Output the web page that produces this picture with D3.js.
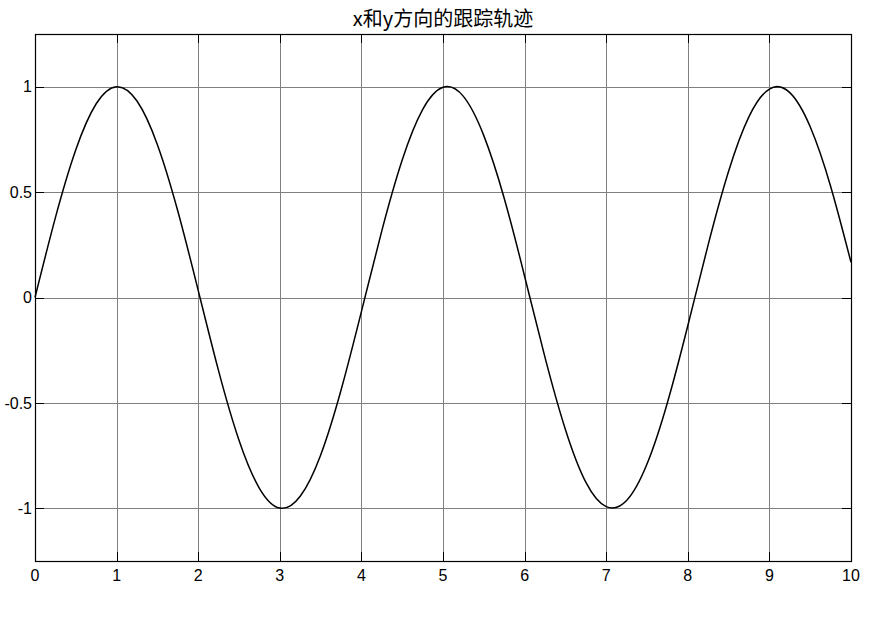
<!DOCTYPE html>
<html lang="zh">
<head>
<meta charset="UTF-8">
<title>x和y方向的跟踪轨迹</title>
<script src="https://d3js.org/d3.v7.min.js"></script>
<style>
  body { margin: 0; background: #fff; }
  .chart text { font-family: "Liberation Sans", Arial, sans-serif; font-size: 16px; fill: #000; }
  .chart .title { font-family: "Noto Sans CJK SC", sans-serif; font-size: 20px; text-anchor: middle; }
  .grid line { stroke: #808080; stroke-width: 1; shape-rendering: crispEdges; }
  .tick-in line { stroke: #000; stroke-width: 1; shape-rendering: crispEdges; }
</style>
</head>
<body>
<svg class="chart"></svg>
<script>
// every 0.25 on t
let tValues = [0, 0.25, 0.5, 0.75, 1, 1.25, 1.5, 1.75, 2, 2.25, 2.5, 2.75, 3, 3.25, 3.5, 3.75,
               4, 4.25, 4.5, 4.75, 5, 5.25, 5.5, 5.75, 6, 6.25, 6.5, 6.75, 7, 7.25, 7.5, 7.75,
               8, 8.25, 8.5, 8.75, 9, 9.25, 9.5, 9.75, 10];
let yValues = [0, 0.379, 0.701, 0.919, 1.0, 0.932, 0.725, 0.410, 0.034, -0.348, -0.677, -0.905, -0.999, -0.943, -0.748, -0.440,
               -0.067, 0.316, 0.652, 0.891, 0.997, 0.954, 0.768, 0.471, 0.101, -0.284, -0.626, -0.876, -0.992, -0.963, -0.790, -0.499,
               -0.134, 0.251, 0.599, 0.858, 0.989, 0.972, 0.810, 0.528, 0.167];
let xTicks = [0, 1, 2, 3, 4, 5, 6, 7, 8, 9, 10];
let yTicks = [-1, -0.5, 0, 0.5, 1];
let yTickLabels = ['-1', '-0.5', '0', '0.5', '1'];
let title = 'x和y方向的跟踪轨迹';

let W = 875, H = 619;
let margin = {top: 34, right: 24, bottom: 58, left: 35};
let width = W - margin.left - margin.right, height = H - margin.top - margin.bottom;
let tickLen = 9;

let x = d3.scaleLinear().domain([0, 10]).range([0, width]);
let y = d3.scaleLinear().domain([-1.25, 1.25]).range([height, 0]);

let svg = d3.select('.chart').attr('width', W).attr('height', H);
let chart = svg.append('g').attr('transform', 'translate(' + margin.left + ',' + margin.top + ')');

// grid
let grid = chart.append('g').attr('class', 'grid');
grid.selectAll('.gx').data(xTicks).enter().append('line')
    .attr('x1', d => Math.round(x(d)) + 0.5).attr('x2', d => Math.round(x(d)) + 0.5)
    .attr('y1', 0).attr('y2', height);
grid.selectAll('.gy').data(yTicks).enter().append('line')
    .attr('y1', d => Math.round(y(d)) + 0.5).attr('y2', d => Math.round(y(d)) + 0.5)
    .attr('x1', 0).attr('x2', width);

// inward ticks on all four sides
let ticks = chart.append('g').attr('class', 'tick-in');
xTicks.forEach(d => {
  let px = Math.round(x(d)) + 0.5;
  ticks.append('line').attr('x1', px).attr('x2', px).attr('y1', height).attr('y2', height - tickLen);
  ticks.append('line').attr('x1', px).attr('x2', px).attr('y1', 0).attr('y2', tickLen);
});
yTicks.forEach(d => {
  let py = Math.round(y(d)) + 0.5;
  ticks.append('line').attr('y1', py).attr('y2', py).attr('x1', 0).attr('x2', tickLen);
  ticks.append('line').attr('y1', py).attr('y2', py).attr('x1', width).attr('x2', width - tickLen);
});

// frame
chart.append('rect').attr('x', 0.5).attr('y', 0.5).attr('width', width).attr('height', height)
    .attr('fill', 'none').attr('stroke', '#000').attr('stroke-width', 1.2);

// tick labels
chart.selectAll('.xl').data(xTicks).enter().append('text')
    .attr('x', d => x(d)).attr('y', height + 20)
    .attr('text-anchor', 'middle').text(d => d);
chart.selectAll('.yl').data(yTicks).enter().append('text')
    .attr('x', -3).attr('y', d => y(d)).attr('dy', '0.36em')
    .attr('text-anchor', 'end').text((d, i) => yTickLabels[i]);

// curve
let pts = tValues.map((t, i) => [t, yValues[i]]);
chart.append('path').datum(pts)
    .attr('fill', 'none').attr('stroke', '#000').attr('stroke-width', 1.5)
    .attr('d', d3.line().x(d => x(d[0])).y(d => y(d[1])).curve(d3.curveNatural));

// title
svg.append('text').attr('class', 'title')
    .attr('x', margin.left + width / 2).attr('y', 26).text(title);
</script>
</body>
</html>
